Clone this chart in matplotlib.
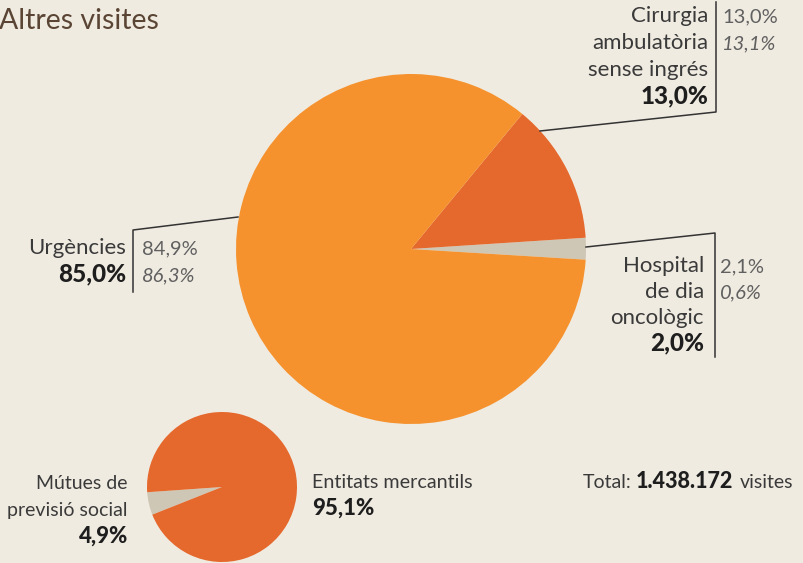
import matplotlib.pyplot as plt

# Altres visites - share by type of visit and by payer
big_labels = ["Hospital\nde dia\noncològic", "Cirurgia\nambulatòria\nsense ingrés", "Urgències"]
big_values = [2.0, 13.0, 85.0]
big_prev1 = ["2,1%", "13,0%", "84,9%"]
big_prev2 = ["0,6%", "13,1%", "86,3%"]

small_labels = ["Mútues de\nprevisió social", "Entitats mercantils"]
small_values = [4.9, 95.1]

total_visits = "1.438.172"

BG = "#f0ebe1"
ORANGE = "#f5922e"
RED = "#e5682c"
GREY = "#cfc7b6"
TXT = "#3a3a3a"
TXT2 = "#606060"
BOLD = "#1e1e1e"
FONT = "Lato"
FS = 16
FSB = 17.5
FS2 = 14.5
H = 563


def Y(y):
    return H - y


def pct(v):
    return f"{v:.1f}%".replace(".", ",")


fig = plt.figure(figsize=(8.04, 5.63), dpi=100, facecolor=BG)
ax = fig.add_axes([0, 0, 1, 1])
ax.set_facecolor(BG)

ax.pie(big_values, colors=[GREY, RED, ORANGE], startangle=-3.5, counterclock=True,
       center=(411, Y(249)), radius=175, wedgeprops=dict(linewidth=0))
ax.pie(small_values, colors=[GREY, RED], startangle=184, counterclock=True,
       center=(222, Y(487)), radius=75, wedgeprops=dict(linewidth=0))

ax.set_xlim(0, 804)
ax.set_ylim(0, H)
ax.set_aspect("equal")
ax.axis("off")

lk = dict(color="#333333", lw=1.1)

# title
ax.text(-1, Y(29), "Altres visites", fontsize=20.5, color="#5a4535", family=FONT,
        ha="left", va="baseline")

# Cirurgia ambulatòria
ax.plot([540, 716, 716], [Y(131), Y(112), Y(2)], **lk)
for i, line in enumerate(big_labels[1].split("\n")):
    ax.text(708, Y(22 + 27 * i), line, fontsize=FS, color=TXT, family=FONT, ha="right", va="baseline")
ax.text(708, Y(103), pct(big_values[1]), fontsize=FSB, weight="black", color=BOLD,
        family=FONT, ha="right", va="baseline")
ax.text(722, Y(22), big_prev1[1], fontsize=FS2, color=TXT2, family=FONT, ha="left", va="baseline")
ax.text(722, Y(49), big_prev2[1], fontsize=FS2, style="italic", color=TXT2, family=FONT,
        ha="left", va="baseline")

# Urgències
ax.plot([238, 133, 133], [Y(217), Y(230), Y(292)], **lk)
ax.text(126, Y(254), big_labels[2], fontsize=FS, color=TXT, family=FONT, ha="right", va="baseline")
ax.text(126, Y(281), pct(big_values[2]), fontsize=FSB, weight="black", color=BOLD,
        family=FONT, ha="right", va="baseline")
ax.text(142, Y(254), big_prev1[2], fontsize=FS2, color=TXT2, family=FONT, ha="left", va="baseline")
ax.text(142, Y(281), big_prev2[2], fontsize=FS2, style="italic", color=TXT2, family=FONT,
        ha="left", va="baseline")

# Hospital de dia oncològic
ax.plot([586, 715, 715], [Y(247), Y(233), Y(357)], **lk)
for i, line in enumerate(big_labels[0].split("\n")):
    ax.text(704, Y(272 + 26 * i), line, fontsize=FS, color=TXT, family=FONT, ha="right", va="baseline")
ax.text(704, Y(350), pct(big_values[0]), fontsize=FSB, weight="black", color=BOLD,
        family=FONT, ha="right", va="baseline")
ax.text(720, Y(272), big_prev1[0], fontsize=FS2, color=TXT2, family=FONT, ha="left", va="baseline")
ax.text(720, Y(298), big_prev2[0], fontsize=FS2, style="italic", color=TXT2, family=FONT,
        ha="left", va="baseline")

# small pie labels
for i, line in enumerate(small_labels[0].split("\n")):
    ax.text(128, Y(489 + 27 * i), line, fontsize=14, color=TXT, family=FONT, ha="right", va="baseline")
ax.text(128, Y(543), pct(small_values[0]), fontsize=16, weight="black", color=BOLD,
        family=FONT, ha="right", va="baseline")
ax.text(312, Y(488), small_labels[1], fontsize=14.2, color=TXT, family=FONT, ha="left", va="baseline")
ax.text(312, Y(515), pct(small_values[1]), fontsize=16, weight="black", color=BOLD,
        family=FONT, ha="left", va="baseline")

# total, chained from the right edge
fig.canvas.draw()
rend = fig.canvas.get_renderer()
inv = ax.transData.inverted()


def left_edge(t):
    bb = t.get_window_extent(rend)
    return inv.transform((bb.x0, bb.y0))[0]


t3 = ax.text(793, Y(488), "visites", fontsize=14, color=TXT, family=FONT, ha="right", va="baseline")
t2 = ax.text(left_edge(t3) - 6, Y(488), total_visits, fontsize=15.5, weight="black", color=BOLD,
             family=FONT, ha="right", va="baseline")
ax.text(left_edge(t2) - 5, Y(488), "Total:", fontsize=14, color=TXT, family=FONT,
        ha="right", va="baseline")

fig.savefig("out.png", dpi=100, facecolor=BG)
